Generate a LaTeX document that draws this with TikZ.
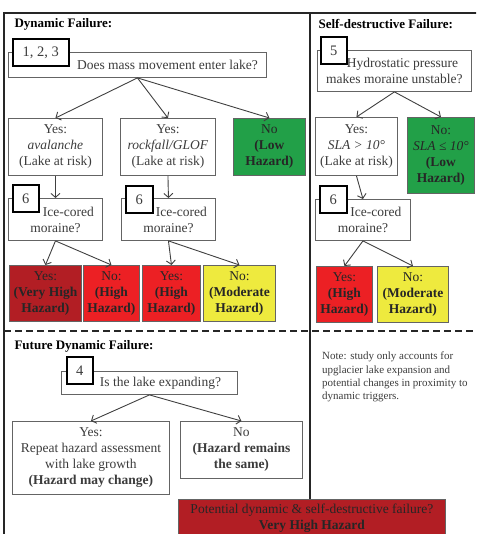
\documentclass[tikz,border=0pt]{standalone}
\usepackage{fontspec}
\setmainfont{Liberation Serif}
\usetikzlibrary{arrows.meta}

\definecolor{lowgreen}{RGB}{34,160,72}
\definecolor{vhred}{RGB}{178,30,36}
\definecolor{hired}{RGB}{236,32,36}
\definecolor{modyellow}{RGB}{238,234,62}
\definecolor{boxgray}{RGB}{100,100,100}
\definecolor{txtgray}{RGB}{60,60,60}

\begin{document}
\begin{tikzpicture}[x=1pt,y=-1pt,
  every node/.style={font=\fontsize{13.5}{16}\selectfont, text=txtgray},
  qbox/.style={draw=boxgray, fill=white, line width=0.9pt, anchor=north west, align=center, inner sep=2pt},
  numbox/.style={draw=black, fill=white, line width=1.7pt, anchor=north west, inner sep=0pt, font=\fontsize{14.5}{16}\selectfont},
  res/.style={draw=boxgray, line width=0.9pt, anchor=north west, align=center, inner sep=1pt, text=black!85},
  head/.style={anchor=west, text=black, font=\bfseries\fontsize{13}{15}\selectfont},
  link/.style={draw=black!75, line width=0.9pt, -{Straight Barb[length=4pt,width=9pt]}},
  frame/.style={draw=black!85, line width=1.7pt}]
\useasboundingbox (0,0) rectangle (476,534);
\clip (0,0) rectangle (476,534);

% headings
\node[head] (hdyn) at (11,24) {Dynamic Failure:};
\node[head] (hself) at (315,24) {Self-destructive Failure:};
\node[head] (hfut) at (11,346) {Future Dynamic Failure:};

% dynamic failure
\node[qbox, minimum width=258pt, minimum height=25pt] (q1) at (8,52) {\hspace*{60pt}Does mass movement enter lake?};
\node[numbox, minimum width=56pt, minimum height=27pt] (n123) at (12,38) {1, 2, 3};
\node[qbox, minimum width=94pt, minimum height=57pt] (yesA) at (8,118) {Yes:\\\textit{avalanche}\\(Lake at risk)};
\node[qbox, minimum width=95pt, minimum height=57pt] (yesB) at (120,118) {Yes:\\\textit{rockfall/GLOF}\\(Lake at risk)};
\node[res, fill=lowgreen, minimum width=72pt, minimum height=57pt] (lowA) at (233,118) {No\\\textbf{(Low}\\\textbf{Hazard)}};
\node[qbox, minimum width=94pt, minimum height=42pt] (iceA) at (8,198) {\hspace*{26pt}Ice-cored\\moraine?};
\node[numbox, minimum width=26pt, minimum height=27pt] (n6a) at (12,184) {6};
\node[qbox, minimum width=94pt, minimum height=42pt] (iceB) at (121,198) {\hspace*{26pt}Ice-cored\\moraine?};
\node[numbox, minimum width=27pt, minimum height=27pt] (n6b) at (125,185) {6};
\node[res, fill=vhred, minimum width=72pt, minimum height=56pt] (vhA) at (9,265) {Yes:\\\textbf{(Very High}\\\textbf{Hazard)}};
\node[res, fill=hired, minimum width=56pt, minimum height=56pt] (hiA) at (83,265) {No:\\\textbf{(High}\\\textbf{Hazard)}};
\node[res, fill=hired, minimum width=58pt, minimum height=56pt] (hiB) at (142,265) {Yes:\\\textbf{(High}\\\textbf{Hazard)}};
\node[res, fill=modyellow, minimum width=72pt, minimum height=56pt] (modB) at (203,265) {No:\\\textbf{(Moderate}\\\textbf{Hazard)}};

% self-destructive failure
\node[qbox, minimum width=154pt, minimum height=41pt] (q5) at (317,50) {\hspace*{16pt}Hydrostatic pressure\\makes moraine unstable?};
\node[numbox, minimum width=26pt, minimum height=27pt] (n5) at (320,36) {5};
\node[qbox, minimum width=82pt, minimum height=58pt] (yesC) at (315,117) {Yes:\\\textit{SLA > 10°}\\(Lake at risk)};
\node[res, fill=lowgreen, minimum width=67pt, minimum height=76pt] (lowC) at (407,117) {No:\\\textit{SLA ≤ 10°}\\\textbf{(Low}\\\textbf{Hazard)}};
\node[qbox, minimum width=95pt, minimum height=41pt] (iceC) at (315,199) {\hspace*{26pt}Ice-cored\\moraine?};
\node[numbox, minimum width=27pt, minimum height=27pt] (n6c) at (319,185) {6};
\node[res, fill=hired, minimum width=56pt, minimum height=56pt] (hiC) at (316,266) {Yes:\\\textbf{(High}\\\textbf{Hazard)}};
\node[res, fill=modyellow, minimum width=71pt, minimum height=56pt] (modC) at (377,266) {No:\\\textbf{(Moderate}\\\textbf{Hazard)}};

% future dynamic failure
\node[qbox, minimum width=176pt, minimum height=23pt] (q4) at (61,371) {\hspace*{22pt}Is the lake expanding?};
\node[numbox, minimum width=26pt, minimum height=27pt] (n4) at (66,356) {4};
\node[qbox, minimum width=157pt, minimum height=73pt] (yesD) at (12,421) {Yes:\\Repeat hazard assessment\\with lake growth\\\textbf{(Hazard may change)}};
\node[qbox, minimum width=122pt, minimum height=57pt] (noD) at (180,421) {No\\\textbf{(Hazard remains}\\\textbf{the same)}};
\node[res, fill=vhred, minimum width=267pt, minimum height=37pt, anchor=north west] (fin) at (178,499) {Potential dynamic \& self-destructive failure?\\\textbf{Very High Hazard}};
\node[anchor=north west, align=left, inner sep=0pt, font=\fontsize{11}{13.2}\selectfont] (note) at (322,352)
  {Note: study only accounts for\\upglacier lake expansion and\\potential changes in proximity to\\dynamic triggers.};

% arrows
\foreach \a/\b in {q1/yesA, q1/yesB, q1/lowA, yesA/iceA, yesB/iceB, iceA/vhA, iceA/hiA, iceB/hiB, iceB/modB,
                   q5/yesC, q5/lowC, yesC/iceC, iceC/hiC, iceC/modC, q4/yesD, q4/noD}
  \draw[link] (\a.south) -- (\b.north);

% panel frame
\coordinate (divtop) at (310,13);
\draw[frame] (4,540) -- (4,13) -- (480,13);
\draw[frame] (divtop) -- (divtop |- fin.north);
\draw[frame, line width=1.8pt, dash pattern=on 7pt off 4pt] (4,331) -- (480,331);
\end{tikzpicture}
\end{document}
